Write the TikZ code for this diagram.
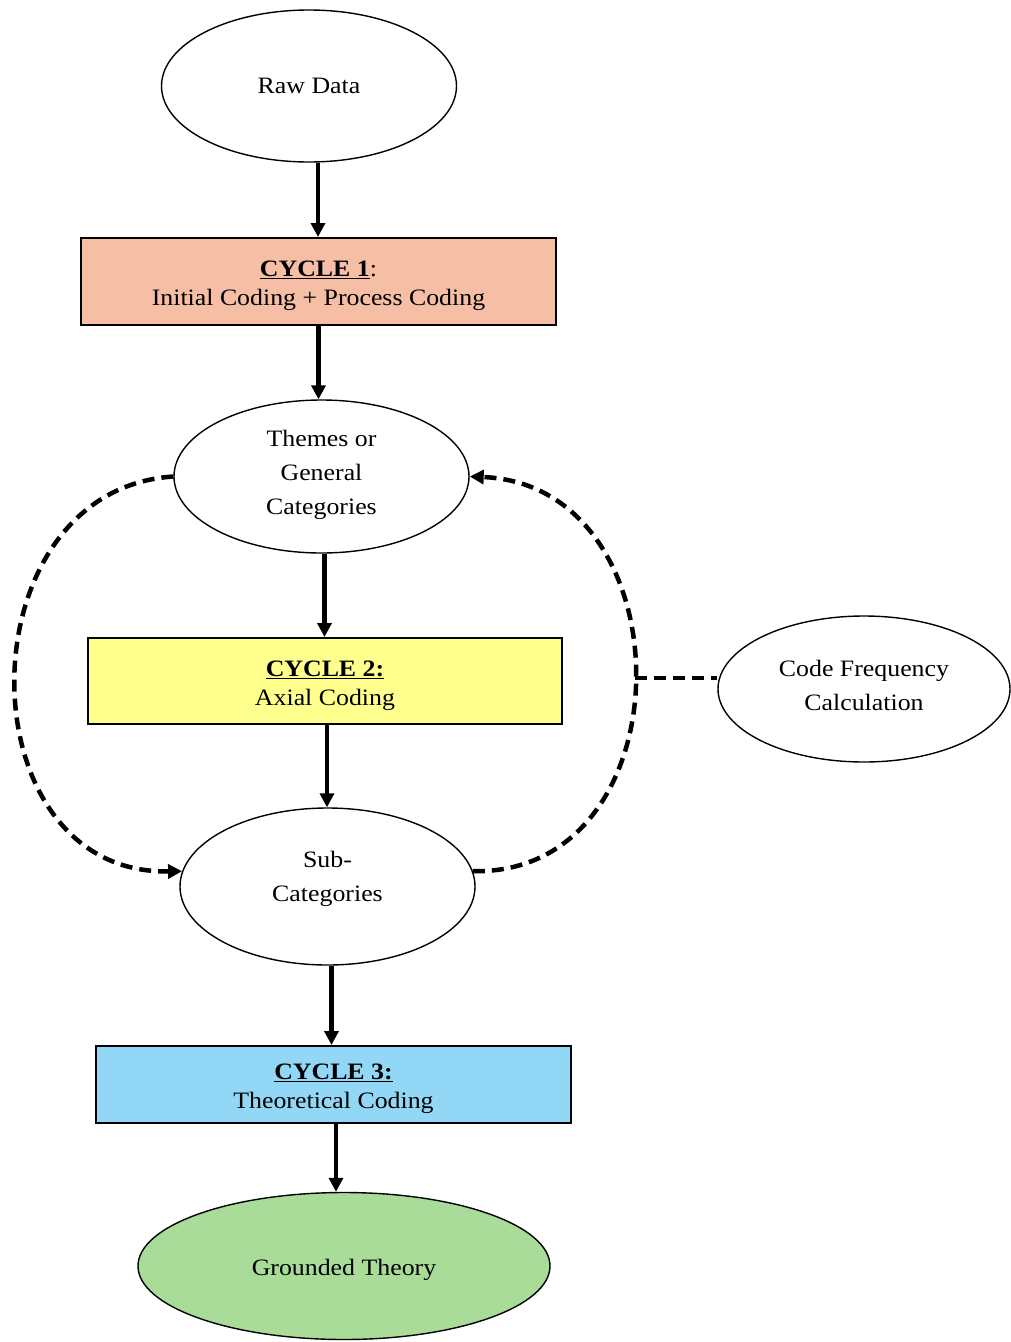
\documentclass[tikz,border=0pt]{standalone}
\usepackage{fontspec}
\setmainfont[FakeStretch=1.1]{Liberation Serif}
\usetikzlibrary{shapes.geometric,arrows.meta}
\definecolor{cycleone}{HTML}{F5BEA5}
\definecolor{cycletwo}{HTML}{FFFF8E}
\definecolor{cyclethree}{HTML}{92D7F5}
\definecolor{theory}{HTML}{A8DC98}
% centred lines of text, nudged vertically without changing the box size
\newcommand{\nudged}[2]{\raisebox{#1}[\height][\depth]{\begin{tabular}{@{}c@{}}#2\end{tabular}}}
\begin{document}
\begin{tikzpicture}[x=1pt,y=-1pt,
  every node/.style={font=\fontsize{23.5}{34}\selectfont, align=center, inner sep=0pt},
  oval/.style={ellipse, draw, line width=1.4pt},
  cyclebox/.style={rectangle, draw, line width=2pt, font=\fontsize{23.5}{29}\selectfont},
  flow/.style={line width=4.2pt, -{Triangle[length=14pt,width=14pt]}},
  loop/.style={line width=4.5pt, dash pattern=on 12pt off 7pt},
  looparrow/.style={loop, -{Triangle[length=14pt,width=14pt]}},
]
\useasboundingbox (0,0) rectangle (1010,1342);

% main chain of stages
\node[oval, minimum width=295pt, minimum height=152pt] (raw) at (309,86) {\nudged{-1pt}{Raw Data}};
\node[cyclebox, fill=cycleone, minimum width=475pt, minimum height=87pt] (c1) at (318.5,281.5)
  {\nudged{-4pt}{\underline{\textbf{CYCLE 1}}:\\Initial Coding + Process Coding}};
\node[oval, minimum width=295pt, minimum height=153pt] (themes) at (321.5,476.5)
  {\nudged{3pt}{Themes or\\General\\Categories}};
\node[cyclebox, fill=cycletwo, minimum width=474pt, minimum height=86pt] (c2) at (325,681)
  {\nudged{-4pt}{\underline{\textbf{CYCLE 2:}}\\Axial Coding}};
\node[oval, minimum width=295pt, minimum height=157pt] (sub) at (327.5,886.5)
  {\nudged{9pt}{Sub-\\Categories}};
\node[cyclebox, fill=cyclethree, minimum width=475pt, minimum height=77pt] (c3) at (333.5,1084.5)
  {\nudged{-4pt}{\underline{\textbf{CYCLE 3:}}\\Theoretical Coding}};
\node[oval, fill=theory, minimum width=412pt, minimum height=147pt] (gt) at (344,1266)
  {\nudged{-3pt}{Grounded Theory}};

% side process
\node[oval, minimum width=292pt, minimum height=146pt] (cf) at (864,689)
  {\nudged{2pt}{Code Frequency\\Calculation}};

% solid flow arrows
\draw[flow] ([xshift=9pt]raw.south) -- ([xshift=9pt]raw.south |- c1.north);
\draw[flow] (c1.south) -- (c1.south |- themes.north);
\draw[flow] ([xshift=3pt]themes.south) -- ([xshift=3pt]themes.south |- c2.north);
\draw[flow] ([xshift=2pt]c2.south) -- ([xshift=2pt]c2.south |- sub.north);
\draw[flow] ([xshift=4pt]sub.south) -- ([xshift=4pt]sub.south |- c3.north);
\draw[flow] ([xshift=2.5pt]c3.south) -- ([xshift=2.5pt]c3.south |- gt.north);

% dashed feedback loops
\draw[looparrow] (themes.west) .. controls (-38,490) and (-38,875) .. (sub.174);
\draw[looparrow] (sub.6) .. controls (689,875) and (689,485) .. (themes.east);
\coordinate (join) at (635,678);
\draw[loop] (join) -- (join -| cf.west);
\end{tikzpicture}
\end{document}
